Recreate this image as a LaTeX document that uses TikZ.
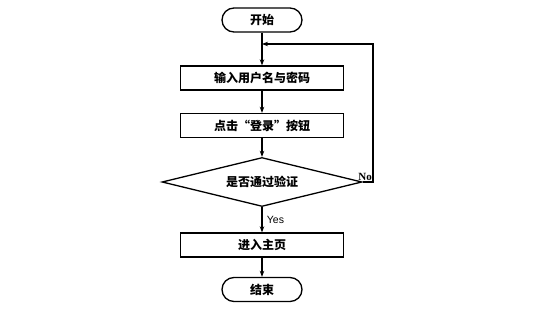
\documentclass[tikz,border=0pt]{standalone}
\usepackage{fontspec}
\newfontfamily\cjk{Noto Sans CJK SC}
\newfontfamily\latinsans{Liberation Sans}
\newfontfamily\latinserif{Liberation Serif}
\usetikzlibrary{positioning,shapes.geometric,arrows.meta}

\begin{document}
\begin{tikzpicture}[x=1pt, y=1pt]
    % Define styles
    \tikzset{
        base/.style={draw=black, line width=1.3pt, font=\cjk\bfseries\fontsize{12}{14}\selectfont, inner sep=0pt},
        terminal/.style={base, rectangle, rounded corners=12pt, minimum width=80pt, minimum height=24pt},
        process/.style={base, rectangle, minimum width=163pt, minimum height=24pt},
        decision/.style={base, diamond, aspect=4, minimum width=200pt, minimum height=49pt},
        flow/.style={line width=1.1pt, -{Stealth[length=6pt, width=4.5pt]}}
    }

    % Fix picture size
    \useasboundingbox (0,0) rectangle (539,314);

    % Draw nodes
    \node[terminal] (start) at (262,294) {开始};
    \node[process] (input) at (262,236) {输入用户名与密码};
    \node[process] (click) at (262,188.5) {点击“登录”按钮};
    \node[decision] (check) at (262,132) {是否通过验证};
    \node[process] (home) at (262,69) {进入主页};
    \node[terminal] (stop) at (262,24.5) {结束};

    % Define loop points
    \coordinate (merge) at (262,270);
    \coordinate (corner) at (373,130);

    % Draw connectors
    \draw[flow] (start) -- (input);
    \draw[flow] (input) -- (click);
    \draw[flow] (click) -- (check);
    \draw[flow] (check) -- node[right, font=\latinsans\fontsize{10.5}{12}\selectfont, xshift=1pt] {Yes} (home);
    \draw[flow] (home) -- (stop);
    \draw[flow] (check.east) -- (check.east -| corner) |- (merge);

    % Label the no branch
    \node[font=\latinserif\bfseries\fontsize{11}{12}\selectfont, anchor=south east, inner sep=1pt] (no) at (check.east -| corner) {No};

\end{tikzpicture}
\end{document}
